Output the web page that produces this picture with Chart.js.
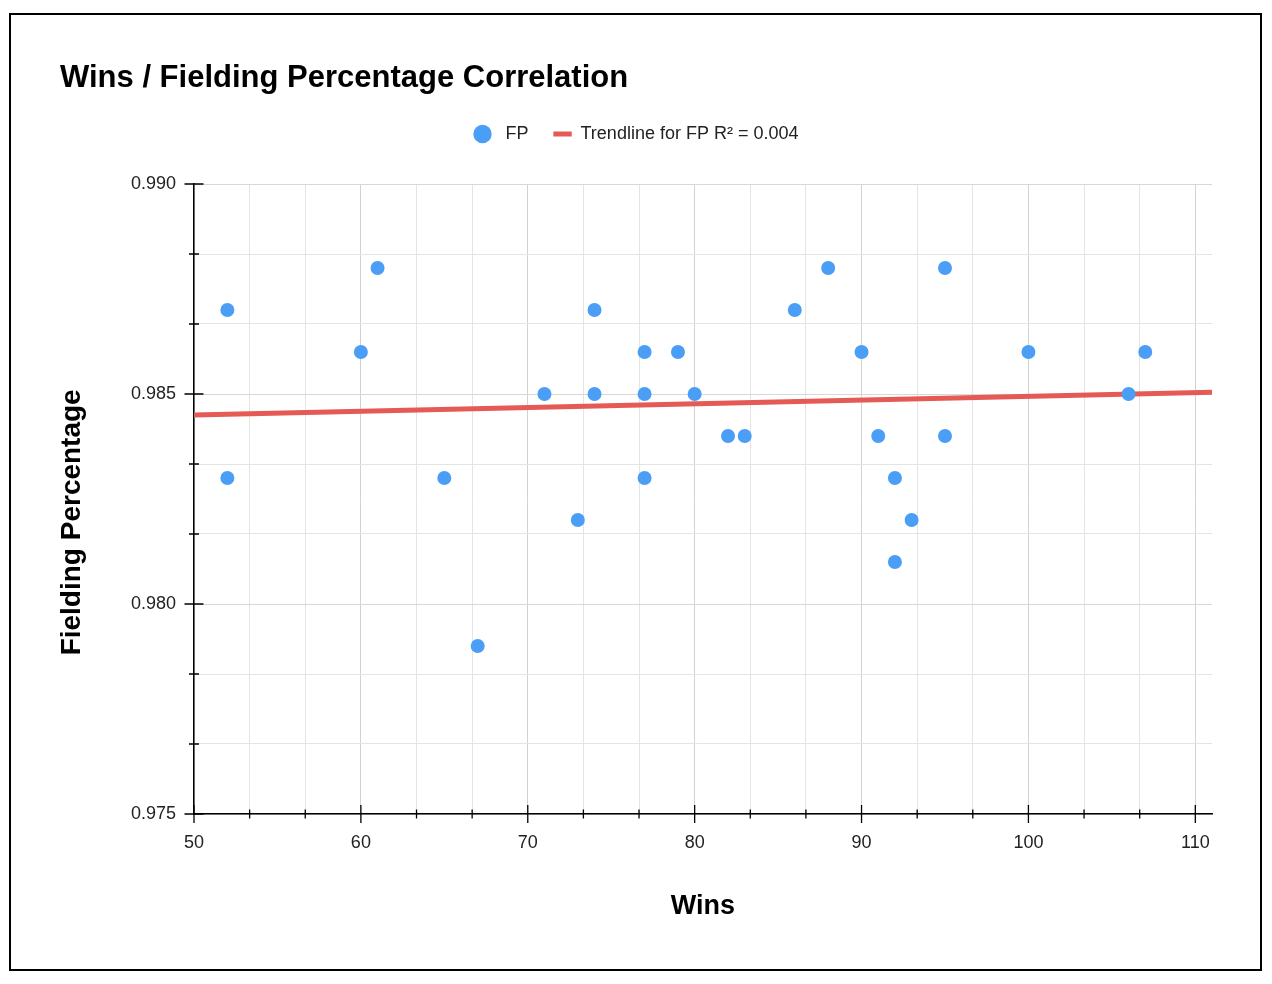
<!DOCTYPE html>
<html>
<head>
<meta charset="utf-8">
<script src="https://cdn.jsdelivr.net/npm/chart.js@4/dist/chart.umd.min.js"></script>
<style>
  html, body { margin: 0; padding: 0; background: #fff; }
  #wrap { position: absolute; left: 0; top: 0; width: 1272px; height: 984px; }
  #frame { position: absolute; left: 9px; top: 13px; width: 1253px; height: 958px; border: 2px solid #000; box-sizing: border-box; pointer-events: none; }
  canvas { position: absolute; left: 0; top: 0; }
</style>
</head>
<body>
<div id="wrap">
  <canvas id="c" width="1272" height="984"></canvas>
  <div id="frame"></div>
</div>
<script>
// ---- data ----
const wins = [52, 52, 60, 61, 65, 67, 71, 73, 74, 74, 77, 77, 77, 79, 80, 82, 83, 86, 88, 90, 91, 92, 92, 93, 95, 95, 100, 106, 107];
const fieldingPct = [0.987, 0.983, 0.986, 0.988, 0.983, 0.979, 0.985, 0.982, 0.987, 0.985, 0.986, 0.985, 0.983, 0.986, 0.985, 0.984, 0.984, 0.987, 0.988, 0.986, 0.984, 0.983, 0.981, 0.982, 0.988, 0.984, 0.986, 0.985, 0.986];
const trendWins = [50, 111];
const trendFP = [0.98450, 0.98504];
const xMajorTicks = [50, 60, 70, 80, 90, 100, 110];
const yMajorTicks = [0.975, 0.980, 0.985, 0.990];
const minorDivisions = 3;
const seriesLabels = ['FP', 'Trendline for FP R\u00B2 = 0.004'];
const chartTitle = 'Wins / Fielding Percentage Correlation';
const xTitle = 'Wins';
const yTitle = 'Fielding Percentage';

const BLUE = '#4a9ef5';
const RED = '#e55a55';
const FONT = "'Liberation Sans', Arial, Helvetica, sans-serif";

function subdivide(majors) {
  const out = [];
  for (let i = 0; i < majors.length - 1; i++) {
    const a = majors[i], b = majors[i + 1];
    for (let k = 0; k < minorDivisions; k++) out.push({ value: a + (b - a) * k / minorDivisions, major: k === 0 });
  }
  out.push({ value: majors[majors.length - 1], major: true });
  return out;
}
const xTickList = subdivide(xMajorTicks);
const yTickList = subdivide(yMajorTicks);

const tickMarks = {
  id: 'tickMarks',
  afterDatasetsDraw(chart) {
    const ctx = chart.ctx, area = chart.chartArea;
    const xs = chart.scales.x, ys = chart.scales.y;
    ctx.save();
    ctx.strokeStyle = '#000';
    ctx.lineWidth = 1.3;
    ctx.beginPath();
    xTickList.forEach(t => {
      const px = xs.getPixelForValue(t.value);
      const len = t.major ? 9 : 4.5;
      ctx.moveTo(px, area.bottom - len);
      ctx.lineTo(px, area.bottom + len);
    });
    yTickList.forEach(t => {
      const py = ys.getPixelForValue(t.value);
      const len = t.major ? 9.5 : 5;
      ctx.moveTo(area.left - len, py);
      ctx.lineTo(area.left + len, py);
    });
    ctx.stroke();
    ctx.restore();
  }
};

const scatterPoints = wins.map((w, i) => ({ x: w, y: fieldingPct[i] }));
const trendPoints = trendWins.map((w, i) => ({ x: w, y: trendFP[i] }));

new Chart(document.getElementById('c'), {
  type: 'scatter',
  data: {
    datasets: [
      {
        type: 'scatter',
        label: seriesLabels[0],
        data: scatterPoints,
        backgroundColor: BLUE,
        borderColor: BLUE,
        borderWidth: 0,
        pointRadius: 7,
        pointHoverRadius: 7,
        pointStyle: 'circle'
      },
      {
        type: 'line',
        label: seriesLabels[1],
        data: trendPoints,
        borderColor: RED,
        backgroundColor: RED,
        borderWidth: 5,
        pointRadius: 0,
        pointStyle: 'line',
        fill: false,
        tension: 0
      }
    ]
  },
  options: {
    responsive: false,
    animation: false,
    devicePixelRatio: 1,
    layout: { padding: { top: 20, left: 60, right: 60, bottom: 40 } },
    plugins: {
      tooltip: { enabled: false },
      title: {
        display: true,
        text: chartTitle,
        align: 'start',
        color: '#000',
        font: { family: FONT, size: 31, weight: 'bold', lineHeight: 1.2 },
        padding: { top: 39.4, bottom: 3.4 }
      },
      subtitle: {
        display: true,
        text: '',
        weight: 500,
        font: { family: FONT, size: 10, lineHeight: 1 },
        padding: { top: 0, bottom: 21 }
      },
      legend: {
        display: true,
        position: 'top',
        align: 'center',
        labels: {
          usePointStyle: true,
          boxHeight: 13,
          padding: 25,
          color: '#222',
          font: { family: FONT, size: 18 },
          generateLabels(chart) {
            const items = Chart.defaults.plugins.legend.labels.generateLabels(chart);
            items[0].text = ' ' + items[0].text;
            return items;
          }
        }
      }
    },
    scales: {
      x: {
        type: 'linear',
        position: 'bottom',
        min: 50,
        max: 111,
        afterBuildTicks(scale) { scale.ticks = xTickList.map(t => ({ value: t.value })); },
        afterFit(scale) { scale.height = 130; },
        ticks: {
          autoSkip: false,
          maxRotation: 0,
          padding: 18,
          color: '#222',
          font: { family: FONT, size: 18 },
          callback(value) {
            const m = xMajorTicks.find(v => Math.abs(v - value) < 1e-6);
            return m === undefined ? '' : String(m);
          }
        },
        grid: {
          drawTicks: false,
          color: c => (c.tick && c.tick.label !== '' ? '#d2d2d2' : '#e4e4e4'),
          lineWidth: 1
        },
        border: { display: true, color: '#000', width: 1.5 },
        title: {
          display: true,
          text: xTitle,
          color: '#000',
          font: { family: FONT, size: 27, weight: 'bold', lineHeight: 1.2 },
          padding: { top: 0, bottom: 20.8 }
        }
      },
      y: {
        type: 'linear',
        position: 'left',
        min: 0.975,
        max: 0.990,
        afterBuildTicks(scale) { scale.ticks = yTickList.map(t => ({ value: t.value })); },
        afterFit(scale) { scale.width = 134; },
        ticks: {
          autoSkip: false,
          padding: 18,
          color: '#222',
          font: { family: FONT, size: 18 },
          callback(value) {
            const m = yMajorTicks.find(v => Math.abs(v - value) < 1e-9);
            return m === undefined ? '' : m.toFixed(3);
          }
        },
        grid: {
          drawTicks: false,
          color: c => (c.tick && c.tick.label !== '' ? '#d8d8d8' : '#e4e4e4'),
          lineWidth: 1
        },
        border: { display: true, color: '#000', width: 1.5 },
        title: {
          display: true,
          text: yTitle + '\u00A0\u00A0\u00A0\u00A0\u00A0\u00A0',
          color: '#000',
          font: { family: FONT, size: 28, weight: 'bold', lineHeight: 1 },
          padding: { top: -1.5, bottom: 0 }
        }
      }
    }
  },
  plugins: [tickMarks]
});
</script>
</body>
</html>
